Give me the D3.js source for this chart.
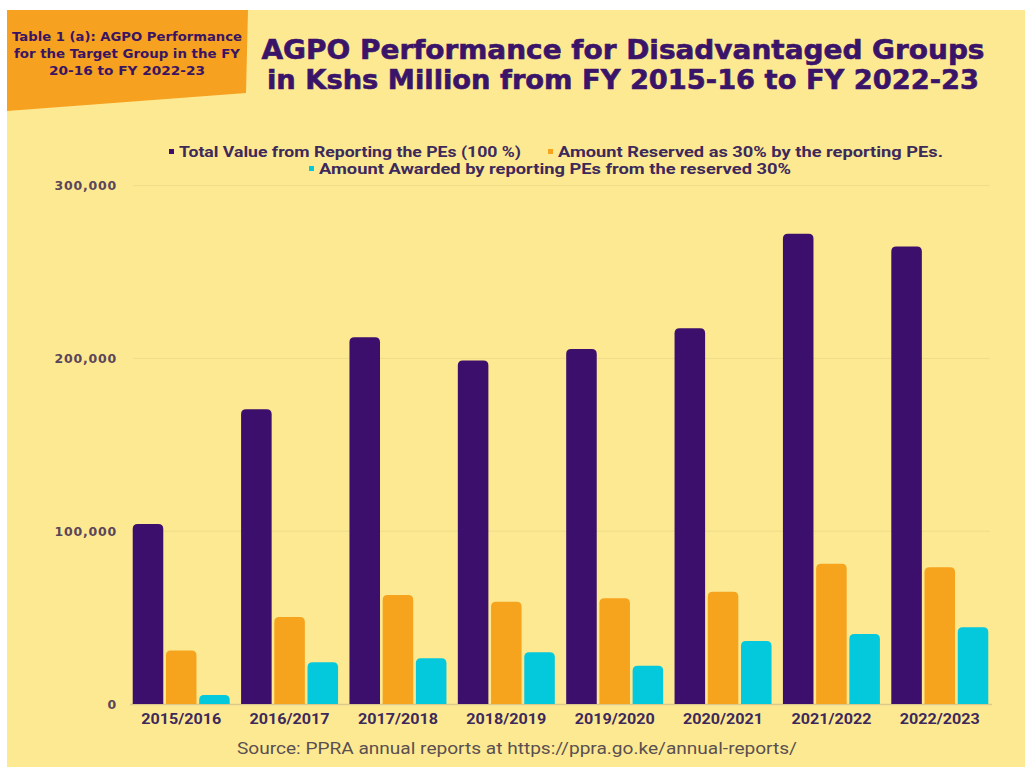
<!DOCTYPE html>
<html>
<head>
<meta charset="utf-8">
<script src="https://cdn.jsdelivr.net/npm/d3@7"></script>
<style>
  body { margin: 0; background: #ffffff; }
  svg { display: block; }
</style>
</head>
<body>
<svg width="1030" height="767"></svg>
<script>
// Data (Kshs Million)
var years = ["2015/2016", "2016/2017", "2017/2018", "2018/2019", "2019/2020", "2020/2021", "2021/2022", "2022/2023"];
var totalValue = [104200, 170600, 212300, 198800, 205400, 217500, 272100, 264800];
var reserved30 = [30900, 50400, 63100, 59200, 61200, 65000, 81100, 79200];
var awarded = [5200, 24100, 26500, 29900, 22200, 36500, 40500, 44400];
var seriesNames = ["Total Value from Reporting the PEs (100 %)", "Amount Reserved as 30% by the reporting PEs.", "Amount Awarded by reporting PEs from the reserved 30%"];
var seriesColors = ["#3c0f6c", "#f6a31e", "#04c8dc"];
var yTicks = [0, 100000, 200000, 300000];

var svg = d3.select("svg"),
	width = +svg.attr("width"),
	height = +svg.attr("height");

// Backgrounds
svg.append("rect")
	.attr("x", 7).attr("y", 10)
	.attr("width", 1018).attr("height", 757)
	.attr("fill", "#fee993");

svg.append("polygon")
	.attr("points", "7,10 248,10 246,93 7,111")
	.attr("fill", "#f6a11f");

// Little label in the orange box (widths fitted to the picture)
var boxLines = ["Table 1 (a): AGPO Performance", "for the Target Group in the FY", "20-16 to FY 2022-23"];
var boxWidths = [230, 226, 156];
svg.append("g").selectAll("text")
	.data(boxLines)
	.enter()
	.append("text")
	.attr("x", 127)
	.attr("y", function(d, i) { return 41 + i * 17; })
	.attr("text-anchor", "middle")
	.attr("textLength", function(d, i) { return boxWidths[i]; })
	.attr("lengthAdjust", "spacingAndGlyphs")
	.style("font-family", "'DejaVu Sans', sans-serif")
	.style("font-weight", 700)
	.style("font-size", "11.5px")
	.style("fill", "#3a1463")
	.text(function(d) { return d; });

// Title
var titleLines = ["AGPO Performance for Disadvantaged Groups", "in Kshs Million from FY 2015-16 to FY 2022-23"];
var titleWidths = [723, 712];
svg.append("g").selectAll("text")
	.data(titleLines)
	.enter()
	.append("text")
	.attr("x", 623)
	.attr("y", function(d, i) { return 59 + i * 30; })
	.attr("text-anchor", "middle")
	.attr("textLength", function(d, i) { return titleWidths[i]; })
	.attr("lengthAdjust", "spacingAndGlyphs")
	.style("font-family", "'DejaVu Sans', sans-serif")
	.style("font-weight", 700)
	.style("font-size", "26px")
	.style("fill", "#3a1468")
	.style("stroke", "#3a1468")
	.style("stroke-width", 0.6)
	.text(function(d) { return d; });

// Scales
var x0 = d3.scaleBand()
	.domain(years)
	.range([127.3, 993.7])
	.paddingInner(0.105)
	.paddingOuter(0.05);

var x1 = d3.scaleBand()
	.domain([0, 1, 2])
	.range([0, x0.bandwidth()])
	.paddingInner(0.08);

var y = d3.scaleLinear()
	.domain([0, 300000])
	.range([704, 185.6]);

// Gridlines
svg.append("g")
	.selectAll("line")
	.data(yTicks.slice(1))
	.enter()
	.append("line")
	.attr("x1", 133).attr("x2", 990)
	.attr("y1", function(d) { return y(d); })
	.attr("y2", function(d) { return y(d); })
	.style("stroke", "#eedc8c")
	.style("stroke-width", 1);

// Baseline
svg.append("line")
	.attr("x1", 130).attr("x2", 992)
	.attr("y1", y(0) + 0.5).attr("y2", y(0) + 0.5)
	.style("stroke", "#d9c98a")
	.style("stroke-width", 1.5);

// Y axis
var yAxis = svg.append("g")
	.attr("transform", "translate(120,0)")
	.call(d3.axisLeft(y).tickValues(yTicks).tickSize(0).tickFormat(d3.format(",")));
yAxis.select(".domain").remove();
yAxis.selectAll("text")
	.style("font-family", "'DejaVu Sans', sans-serif")
	.style("font-weight", 700)
	.style("font-size", "12.5px")
	.style("letter-spacing", "0.8px")
	.style("fill", "#5a4658");

// X axis
var xAxis = svg.append("g")
	.attr("transform", "translate(0,706)")
	.call(d3.axisBottom(x0).tickSize(0).tickPadding(7));
xAxis.select(".domain").remove();
xAxis.selectAll("text")
	.attr("textLength", 80)
	.attr("lengthAdjust", "spacingAndGlyphs")
	.style("font-family", "Roboto, sans-serif")
	.style("font-weight", 700)
	.style("font-size", "15px")
	.style("fill", "#3d2a5a");

// Bars with rounded tops
function topRounded(x, yy, w, h, r) {
	r = Math.min(r, h, w / 2);
	return "M" + x + "," + (yy + h) +
		"V" + (yy + r) +
		"Q" + x + "," + yy + " " + (x + r) + "," + yy +
		"H" + (x + w - r) +
		"Q" + (x + w) + "," + yy + " " + (x + w) + "," + (yy + r) +
		"V" + (yy + h) + "Z";
}

var seriesValues = [totalValue, reserved30, awarded];
var groups = svg.append("g")
	.selectAll("g")
	.data(years)
	.enter()
	.append("g")
	.attr("transform", function(d) { return "translate(" + x0(d) + ",0)"; });

groups.selectAll("path")
	.data(function(d, i) { return seriesValues.map(function(s, k) { return { k: k, v: s[i] }; }); })
	.enter()
	.append("path")
	.attr("d", function(d) {
		return topRounded(x1(d.k), y(d.v), x1.bandwidth(), y(0) - y(d.v), 5);
	})
	.attr("fill", function(d) { return seriesColors[d.k]; });

// Legend
var legendItems = [
	{ k: 0, x: 179, y: 152, w: 342 },
	{ k: 1, x: 558, y: 152, w: 385 },
	{ k: 2, x: 319, y: 169, w: 472 }
];
var legend = svg.append("g")
	.selectAll("g")
	.data(legendItems)
	.enter()
	.append("g")
	.attr("transform", function(d) { return "translate(" + d.x + "," + d.y + ")"; });
legend.append("rect")
	.attr("x", -10).attr("y", -3)
	.attr("width", 5).attr("height", 5)
	.attr("fill", function(d) { return seriesColors[d.k]; });
legend.append("text")
	.attr("x", 0)
	.attr("y", 5)
	.attr("textLength", function(d) { return d.w; })
	.attr("lengthAdjust", "spacingAndGlyphs")
	.style("font-family", "Roboto, sans-serif")
	.style("font-weight", 700)
	.style("font-size", "14px")
	.style("fill", "#3d2a5a")
	.text(function(d) { return seriesNames[d.k]; });

// Source
svg.append("text")
	.attr("x", 517)
	.attr("y", 754)
	.attr("text-anchor", "middle")
	.attr("textLength", 560)
	.attr("lengthAdjust", "spacingAndGlyphs")
	.style("font-family", "Roboto, sans-serif")
	.style("font-size", "16px")
	.style("fill", "#5a5050")
	.text("Source: PPRA annual reports at https://ppra.go.ke/annual-reports/");
</script>
</body>
</html>
